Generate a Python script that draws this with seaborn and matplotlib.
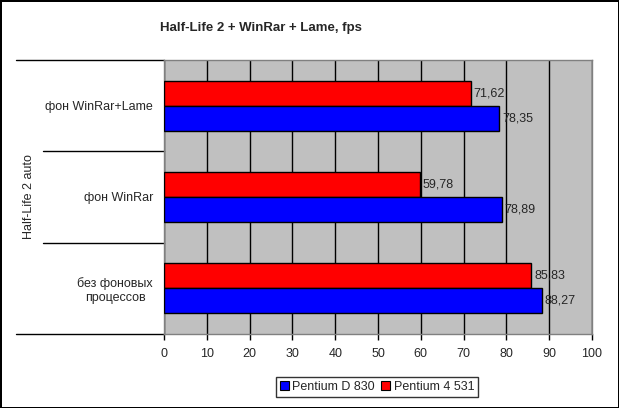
import pandas as pd
import seaborn as sns
import matplotlib.pyplot as plt
from matplotlib.patches import Patch

# data
categories = ['фон WinRar+Lame', 'фон WinRar', 'без фоновых\nпроцессов']
pentium_d = [78.35, 78.89, 88.27]
pentium_4 = [71.62, 59.78, 85.83]
series_names = ['Pentium D 830', 'Pentium 4 531']
colors = {'Pentium D 830': '#0000FF', 'Pentium 4 531': '#FF0000'}

df = pd.DataFrame({
    'cat': categories * 2,
    'cpu': [series_names[0]] * 3 + [series_names[1]] * 3,
    'fps': pentium_d + pentium_4,
})

sns.set_style('white')
plt.rcParams['font.family'] = ['Liberation Sans', 'DejaVu Sans']
plt.rcParams['font.size'] = 9

fig = plt.figure(figsize=(6.19, 4.08), dpi=100, edgecolor='black', linewidth=2)
ax = fig.add_axes([164 / 619, 1 - 334 / 408, 428 / 619, 274 / 408])

sns.barplot(data=df, y='cat', x='fps', hue='cpu', order=categories,
            hue_order=['Pentium 4 531', 'Pentium D 830'], palette=colors,
            orient='h', width=0.55, edgecolor='black', linewidth=1,
            saturation=1, ax=ax, legend=False, zorder=3)

ax.set_facecolor('#C0C0C0')
ax.set_xlim(0, 100)
ax.set_ylim(2.5, -0.5)
ax.set_xticks(range(0, 101, 10))
ax.grid(axis='x', color='black', linewidth=1, zorder=0)
ax.set_axisbelow(True)
for s in ax.spines.values():
    s.set_color('#808080')
    s.set_linewidth(1)
ax.tick_params(axis='x', direction='out', length=4, width=1, color='black',
               bottom=True, pad=6, labelsize=9)
ax.tick_params(axis='y', length=0, pad=8, labelsize=9)
for lbl in ax.get_yticklabels():
    lbl.set_multialignment('center')
ax.set_xlabel('')
ax.set_ylabel('Half-Life 2 auto', fontsize=9, labelpad=0)
ax.yaxis.set_label_coords(-0.301, 0.5)

# value labels with comma decimals
for cont in ax.containers:
    ax.bar_label(cont, labels=[f'{v:.2f}'.replace('.', ',') for v in cont.datavalues],
                 padding=2, fontsize=9)

# category separator lines in the label area
ax.plot([-0.346, 0], [1, 1], transform=ax.transAxes, color='black', lw=1, clip_on=False)
ax.plot([-0.346, 0], [0, 0], transform=ax.transAxes, color='black', lw=1, clip_on=False)
for yy in [1 / 3, 2 / 3]:
    ax.plot([-0.283, 0], [yy, yy], transform=ax.transAxes, color='black', lw=1, clip_on=False)

fig.text(261 / 619, 1 - 28 / 408, 'Half-Life 2 + WinRar + Lame, fps',
         ha='center', va='center', fontsize=9.5, fontweight='bold')

handles = [Patch(facecolor=colors[n], edgecolor='black', linewidth=0.8) for n in series_names]
fig.legend(handles, series_names, loc='center', bbox_to_anchor=(377 / 619, 1 - 387 / 408),
           ncol=2, frameon=True, fancybox=False, edgecolor='black', fontsize=9,
           handlelength=0.7, handleheight=0.7, handletextpad=0.3, columnspacing=0.5,
           borderpad=0.3)

fig.savefig('out.png', dpi=100)
